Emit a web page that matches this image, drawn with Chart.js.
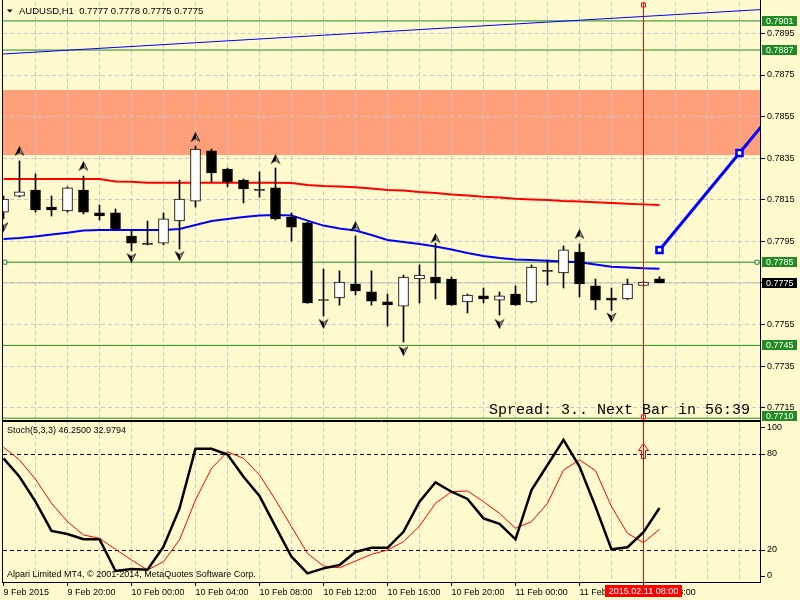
<!DOCTYPE html>
<html>
<head>
<meta charset="utf-8">
<title>AUDUSD,H1</title>
<script src="https://cdn.jsdelivr.net/npm/chart.js@4.4.1/dist/chart.umd.min.js"></script>
<style>
  html, body { margin: 0; padding: 0; background: #fffacd; }
  #wrap { position: relative; width: 800px; height: 600px; overflow: hidden; }
  #wrap canvas { position: absolute; left: 0; }
</style>
</head>
<body>
<div id="wrap">
  <canvas id="priceChart" width="800" height="421" style="top:0;width:800px;height:421px"></canvas>
  <canvas id="stochChart" width="800" height="179" style="top:421px;width:800px;height:179px"></canvas>
</div>
<script>
// AUDUSD H1 candles, bar 0 = 9 Feb 2015 16:00, last bar = 11 Feb 09:00
const symbol = 'AUDUSD,H1';
const opens = [0.78091, 0.78168, 0.78197, 0.78115, 0.78096, 0.78197, 0.78087, 0.78087, 0.77976, 0.77938,
               0.77942, 0.78048, 0.78144, 0.78385, 0.78298, 0.78245, 0.78197, 0.78207, 0.78067, 0.78039,
               0.77668, 0.77678, 0.77745, 0.77707, 0.77659, 0.77639, 0.77769, 0.77779, 0.77769, 0.77659,
               0.77688, 0.77668, 0.77697, 0.77659, 0.77808, 0.77798, 0.77899, 0.77736, 0.77678, 0.77673,
               0.77738, 0.77770];
const highs = [0.78168, 0.78337, 0.78274, 0.78168, 0.78212, 0.78264, 0.78125, 0.78106, 0.78005, 0.78048,
               0.78087, 0.78245, 0.78409, 0.78394, 0.78303, 0.78250, 0.78284, 0.78303, 0.78087, 0.78043,
               0.77817, 0.77808, 0.77976, 0.77808, 0.77697, 0.77788, 0.77837, 0.77942, 0.77779, 0.77697,
               0.77726, 0.77707, 0.77736, 0.77837, 0.77861, 0.77928, 0.77938, 0.77769, 0.77726, 0.77769,
               0.77758, 0.77780];
const lows = [0.78058, 0.78163, 0.78091, 0.78072, 0.78091, 0.78082, 0.78053, 0.78005, 0.77904, 0.77933,
              0.77933, 0.77913, 0.78115, 0.78236, 0.78212, 0.78135, 0.78163, 0.78053, 0.77952, 0.77652,
              0.77591, 0.77644, 0.77692, 0.77644, 0.77543, 0.77466, 0.77654, 0.77673, 0.77642, 0.77606,
              0.77654, 0.77596, 0.77642, 0.77654, 0.77740, 0.77726, 0.77683, 0.77622, 0.77618, 0.77670,
              0.77735, 0.77750];
const closes = [0.78154, 0.78188, 0.78101, 0.78101, 0.78207, 0.78091, 0.78072, 0.78010, 0.77942, 0.77936,
                0.78058, 0.78154, 0.78394, 0.78279, 0.78236, 0.78202, 0.78195, 0.78058, 0.78019, 0.77654,
                0.77666, 0.77755, 0.77712, 0.77663, 0.77644, 0.77779, 0.77788, 0.77750, 0.77644, 0.77692,
                0.77673, 0.77688, 0.77644, 0.77827, 0.77806, 0.77909, 0.77745, 0.77668, 0.77668, 0.77745,
                0.77755, 0.77750];

// moving averages (red = slow, blue = fast)
const maSlow = [0.78250, 0.78250, 0.78250, 0.78250, 0.78250, 0.78250, 0.78250, 0.78238, 0.78237, 0.78232,
                0.78232, 0.78232, 0.78232, 0.78232, 0.78232, 0.78232, 0.78232, 0.78232, 0.78231, 0.78221,
                0.78216, 0.78214, 0.78210, 0.78204, 0.78197, 0.78195, 0.78188, 0.78183, 0.78175, 0.78171,
                0.78165, 0.78161, 0.78155, 0.78152, 0.78149, 0.78144, 0.78142, 0.78138, 0.78135, 0.78131,
                0.78128, 0.78125];
const maFast = [0.77962, 0.77966, 0.77974, 0.77983, 0.77992, 0.78002, 0.78005, 0.78005, 0.78005, 0.78005,
                0.78005, 0.78010, 0.78029, 0.78048, 0.78058, 0.78067, 0.78075, 0.78077, 0.78075, 0.78050,
                0.78026, 0.78012, 0.78002, 0.77981, 0.77957, 0.77947, 0.77938, 0.77925, 0.77911, 0.77894,
                0.77880, 0.77870, 0.77863, 0.77861, 0.77857, 0.77853, 0.77850, 0.77839, 0.77828, 0.77825,
                0.77821, 0.77819];

// fractals
const fractalUpBars = [1, 5, 12, 17, 22, 27, 36];
const fractalUpPrices = [0.78385, 0.78313, 0.78452, 0.78346, 0.78024, 0.77966, 0.77986];
const fractalDownBars = [0, 8, 11, 20, 25, 31, 38];
const fractalDownPrices = [0.78019, 0.77870, 0.77880, 0.77553, 0.77423, 0.77553, 0.77584];

// objects on the chart
const priceTicks = [0.7715, 0.7735, 0.7755, 0.7775, 0.7795, 0.7815, 0.7835, 0.7855, 0.7875, 0.7895];
const levelPrices = [0.7901, 0.7887, 0.7785, 0.7745, 0.7710];
const bidPrice = 0.7775;
const zonePrices = [0.78365, 0.78678];
const thinTrendBars = [0, 47];
const thinTrendPrices = [0.78851, 0.79063];
const thickTrendBars = [41, 46];
const thickTrendPrices = [0.77909, 0.78375];
const cursorBar = 40;
const cursorTime = '2015.02.11 08:00';
const cursorHandlePrices = [0.79087, 0.77106];
const spreadText = 'Spread: 3.. Next Bar in 56:39';

// Stochastic (5,3,3)
const stochMain = [77.3, 65.8, 50.2, 31.9, 30.0, 26.7, 26.7, 6.9, 8.1, 7.7,
                   22.1, 46.0, 83.3, 83.3, 79.6, 65.8, 53.8, 34.6, 15.8, 5.4,
                   8.5, 10.6, 18.8, 21.4, 21.4, 31.4, 50.2, 62.3, 56.4, 51.9,
                   39.8, 36.3, 26.7, 57.5, 73.1, 88.8, 72.1, 47.1, 20.4, 21.7,
                   31.1, 46.25];
const stochSignal = [84.2, 76.3, 64.2, 49.2, 37.7, 29.4, 27.3, 20.4, 13.8, 7.5,
                     12.7, 26.3, 51.3, 71.0, 81.4, 77.3, 66.9, 51.3, 34.6, 17.9,
                     10.0, 8.9, 13.1, 17.3, 20.0, 25.2, 35.0, 49.2, 56.4, 56.9,
                     50.2, 42.9, 33.6, 37.7, 49.2, 70.0, 76.3, 69.6, 47.1, 30.4,
                     24.6, 32.9794];
const stochLevels = [20, 80];
// MT4 pulls the 0 and 100 labels inside the sub-window
const stochTickValues = [3.75, 20, 80, 96.25];
const stochTickText = ['0', '20', '80', '100'];
const arrowValue = 81.9;

// time axis: a label every 4 bars
const timeLabels = ['9 Feb 2015', '9 Feb 20:00', '10 Feb 00:00', '10 Feb 04:00', '10 Feb 08:00',
                    '10 Feb 12:00', '10 Feb 16:00', '10 Feb 20:00', '11 Feb 00:00', '11 Feb 04:00',
                    '11 Feb 08:00'];

// visible window
const xMin = -0.03125, xMax = 47.34375;
const priceMin = 0.770913, priceMax = 0.79101;
const stochMin = 0, stochMax = 100.625;

const bgColor = '#fffacd';
const gridColor = '#c8c8c8';
const levelGreen = '#228b22';

Chart.defaults.font.family = "'Liberation Sans', Arial, sans-serif";
Chart.defaults.font.size = 9;
Chart.defaults.color = '#000';

const bars = opens.map((_, i) => i);
const gridBars = [];
for (let i = 0; i <= 46; i += 2) gridBars.push(i);

function lineAt(xs, ys, x) {
    const k = (ys[1] - ys[0]) / (xs[1] - xs[0]);
    return ys[0] + k * (x - xs[0]);
}

function arrowIcon(up) {
    const c = document.createElement('canvas');
    c.width = 11; c.height = 11;
    const g = c.getContext('2d');
    if (!up) { g.translate(0, 11); g.scale(1, -1); }
    g.beginPath();
    g.moveTo(5.5, 0.5); g.lineTo(10.5, 10.5); g.lineTo(5.5, 7.5); g.lineTo(0.5, 10.5);
    g.closePath();
    g.fillStyle = '#000';
    g.fill();
    g.beginPath();
    g.moveTo(6, 3); g.lineTo(9, 9); g.lineTo(6, 7);
    g.closePath();
    g.fillStyle = '#9a9a9a';
    g.fill();
    return c;
}

function outlineArrow() {
    const c = document.createElement('canvas');
    c.width = 11; c.height = 16;
    const g = c.getContext('2d');
    g.beginPath();
    g.moveTo(5.5, 0.5); g.lineTo(10.5, 7.5); g.lineTo(7.5, 7.5); g.lineTo(7.5, 15.5);
    g.lineTo(3.5, 15.5); g.lineTo(3.5, 7.5); g.lineTo(0.5, 7.5);
    g.closePath();
    g.strokeStyle = '#ff0000';
    g.lineWidth = 1;
    g.stroke();
    return c;
}

function flatLine(price, color, width) {
    return {
        type: 'line',
        data: [{ x: xMin, y: price }, { x: xMax, y: price }],
        borderColor: color, borderWidth: width, pointRadius: 0, order: 6
    };
}

// ---------- price window ----------
const mainDecor = {
    id: 'mainDecor',
    beforeDraw(chart) {
        const { ctx, chartArea: a, scales: { y } } = chart;
        ctx.save();
        ctx.fillStyle = bgColor;
        ctx.fillRect(0, 0, chart.width, chart.height);
        const top = y.getPixelForValue(zonePrices[1]);
        const bot = y.getPixelForValue(zonePrices[0]);
        ctx.fillStyle = '#ffa07a';
        ctx.fillRect(a.left, top, a.right - a.left, bot - top);
        ctx.restore();
    },
    afterDraw(chart) {
        const { ctx, chartArea: a, scales: { y } } = chart;
        ctx.save();
        ctx.setLineDash([]);
        ctx.strokeStyle = '#000';
        ctx.lineWidth = 1;
        ctx.beginPath();
        ctx.moveTo(a.left - 0.5, 0); ctx.lineTo(a.left - 0.5, chart.height);
        ctx.moveTo(a.right - 0.5, 0); ctx.lineTo(a.right - 0.5, chart.height);
        ctx.moveTo(a.left - 1, a.bottom + 0.5); ctx.lineTo(a.right, a.bottom + 0.5);
        ctx.stroke();

        // price tags on the axis (kept inside the window like MT4 does)
        ctx.font = "9px 'Liberation Sans', Arial, sans-serif";
        ctx.textBaseline = 'middle';
        const tag = (price, color) => {
            const py = Math.min(Math.round(y.getPixelForValue(price)), chart.height - 5);
            ctx.fillStyle = color;
            ctx.fillRect(a.right + 1, py - 5, 35, 10);
            ctx.fillStyle = '#fff';
            ctx.fillText(price.toFixed(4), a.right + 5, py + 0.5);
        };
        levelPrices.forEach(p => tag(p, levelGreen));
        tag(bidPrice, '#000');

        // title
        ctx.fillStyle = '#000';
        ctx.beginPath();
        ctx.moveTo(7, 9.5); ctx.lineTo(12.5, 9.5); ctx.lineTo(9.75, 12.5);
        ctx.closePath();
        ctx.fill();
        const last = opens.length - 1;
        const title = symbol + '  ' + [opens[last], highs[last], lows[last], closes[last]]
            .map(v => v.toFixed(4)).join(' ');
        ctx.font = "9.5px 'Liberation Sans', Arial, sans-serif";
        ctx.fillText(title, 19, 11.5);

        ctx.font = "15px 'Liberation Mono', 'Courier New', monospace";
        ctx.textBaseline = 'alphabetic';
        ctx.fillText(spreadText, 489, 414);
        ctx.restore();
    }
};

const bodyColors = bars.map(i => closes[i] >= opens[i] ? '#ffffff' : '#000000');

new Chart(document.getElementById('priceChart'), {
    type: 'bar',
    data: {
        datasets: [
            {
                type: 'scatter',
                data: fractalUpBars.map((b, k) => ({ x: b, y: fractalUpPrices[k] })),
                pointStyle: arrowIcon(true), pointRadius: 5, order: 0
            },
            {
                type: 'scatter',
                data: fractalDownBars.map((b, k) => ({ x: b, y: fractalDownPrices[k] })),
                pointStyle: arrowIcon(false), pointRadius: 5, order: 0
            },
            {
                // candle bodies
                data: bars.map(i => ({ x: i, y: [opens[i], closes[i]] })),
                backgroundColor: bodyColors,
                borderColor: '#000',
                borderWidth: 1,
                borderSkipped: false,
                barThickness: 10,
                minBarLength: 1,
                grouped: false,
                clip: 0,
                order: 1
            },
            {
                // wicks
                data: bars.map(i => ({ x: i, y: [lows[i], highs[i]] })),
                backgroundColor: '#000',
                barThickness: 1,
                grouped: false,
                clip: 0,
                order: 2
            },
            {
                type: 'line',
                data: bars.map(i => ({ x: i, y: maSlow[i] })),
                borderColor: '#ff0000', borderWidth: 2, pointRadius: 0, order: 3
            },
            {
                type: 'line',
                data: bars.map(i => ({ x: i, y: maFast[i] })),
                borderColor: '#0000ff', borderWidth: 2, pointRadius: 0, order: 3
            },
            {
                type: 'line',
                data: [
                    { x: thickTrendBars[0], y: thickTrendPrices[0] },
                    { x: thickTrendBars[1], y: thickTrendPrices[1] },
                    { x: xMax, y: lineAt(thickTrendBars, thickTrendPrices, xMax) }
                ],
                borderColor: '#0000ff', borderWidth: 3,
                pointStyle: 'rect', pointRadius: [4.3, 4.3, 0],
                pointBackgroundColor: '#ffffff', pointBorderColor: '#0000ff', pointBorderWidth: 2.5,
                order: 0
            },
            {
                type: 'line',
                data: [
                    { x: xMin, y: lineAt(thinTrendBars, thinTrendPrices, xMin) },
                    { x: xMax, y: lineAt(thinTrendBars, thinTrendPrices, xMax) }
                ],
                borderColor: '#0000ff', borderWidth: 1, pointRadius: 0, order: 4
            },
            ...levelPrices.map(p => flatLine(p, levelGreen, 1)),
            flatLine(bidPrice, '#c0c0c0', 1),
            {
                type: 'line',
                data: [{ x: cursorBar, y: priceMin }, { x: cursorBar, y: priceMax }],
                borderColor: '#ff0000', borderWidth: 1, pointRadius: 0, order: 0
            },
            {
                type: 'scatter',
                data: [
                    { x: cursorBar, y: cursorHandlePrices[0] },
                    { x: cursorBar, y: cursorHandlePrices[1] }
                ],
                pointStyle: 'rect', pointRadius: 2.8,
                pointBackgroundColor: '#ffffff', pointBorderColor: '#ff0000', pointBorderWidth: 1,
                order: 0
            },
            {
                type: 'scatter',
                data: [{ x: xMin + 0.12, y: levelPrices[2] }, { x: xMax - 0.25, y: levelPrices[2] }],
                pointStyle: 'rect', pointRadius: 2.8,
                pointBackgroundColor: '#ffffff', pointBorderColor: levelGreen, pointBorderWidth: 1,
                order: 0
            }
        ]
    },
    options: {
        responsive: false,
        animation: false,
        devicePixelRatio: 1,
        events: [],
        layout: { autoPadding: false, padding: { left: 3, top: 2, right: 0, bottom: 1 } },
        plugins: { legend: { display: false }, tooltip: { enabled: false } },
        scales: {
            x: {
                type: 'linear', min: xMin, max: xMax, offset: false,
                afterBuildTicks: s => { s.ticks = gridBars.map(v => ({ value: v })); },
                afterFit: s => { s.height = 0; s.paddingLeft = 0; s.paddingRight = 0; },
                ticks: { display: false },
                grid: {
                    offset: false, drawTicks: false,
                    color: c => (c.tick && c.tick.value === 0) ? 'transparent' : gridColor,
                    borderDash: [4, 3]
                },
                border: { display: false, dash: [4, 3] }
            },
            y: {
                position: 'right', min: priceMin, max: priceMax,
                afterBuildTicks: s => { s.ticks = priceTicks.map(v => ({ value: v })); },
                afterFit: s => { s.width = 39; s.paddingTop = 0; s.paddingBottom = 0; },
                ticks: { callback: v => v.toFixed(4), padding: 2, color: '#000' },
                grid: { color: gridColor, tickColor: '#000', tickLength: 4, tickBorderDash: [], borderDash: [4, 3] },
                border: { display: false, dash: [4, 3] }
            }
        }
    },
    plugins: [mainDecor]
});

// ---------- stochastic window ----------
const hasLabel = v => v % 4 === 0 && v / 4 < timeLabels.length;

const stochDecor = {
    id: 'stochDecor',
    beforeDraw(chart) {
        const { ctx } = chart;
        ctx.save();
        ctx.fillStyle = bgColor;
        ctx.fillRect(0, 0, chart.width, chart.height);
        ctx.restore();
    },
    afterDraw(chart) {
        const { ctx, chartArea: a, scales: { x } } = chart;
        ctx.save();
        ctx.setLineDash([]);
        ctx.strokeStyle = '#000';
        ctx.lineWidth = 1;
        ctx.beginPath();
        ctx.moveTo(a.left - 1, a.top + 0.5); ctx.lineTo(a.right, a.top + 0.5);
        ctx.moveTo(a.left - 0.5, 0); ctx.lineTo(a.left - 0.5, a.bottom + 1);
        ctx.moveTo(a.right - 0.5, 0); ctx.lineTo(a.right - 0.5, a.bottom + 1);
        ctx.moveTo(a.left - 1, a.bottom + 0.5); ctx.lineTo(a.right, a.bottom + 0.5);
        ctx.stroke();

        ctx.fillStyle = '#000';
        ctx.font = "9px 'Liberation Sans', Arial, sans-serif";
        ctx.textBaseline = 'middle';
        const last = stochMain.length - 1;
        ctx.fillText('Stoch(5,3,3) ' + stochMain[last].toFixed(4) + ' ' + stochSignal[last].toFixed(4), 7, 10);
        ctx.fillText('Alpari Limited MT4, \u00a9 2001-2014, MetaQuotes Software Corp.', 7, 154);

        // time of the vertical line
        const cx = x.getPixelForValue(cursorBar);
        const w = ctx.measureText(cursorTime).width + 8;
        ctx.fillStyle = '#ff0000';
        ctx.fillRect(Math.round(cx - w / 2), a.bottom + 3, Math.round(w), 12);
        ctx.fillStyle = '#ffffff';
        ctx.textAlign = 'center';
        ctx.fillText(cursorTime, cx, a.bottom + 9.5);
        ctx.restore();
    }
};

new Chart(document.getElementById('stochChart'), {
    type: 'line',
    data: {
        datasets: [
            {
                data: bars.map(i => ({ x: i, y: stochMain[i] })),
                borderColor: '#000', borderWidth: 2.5, pointRadius: 0, order: 0
            },
            {
                data: bars.map(i => ({ x: i, y: stochSignal[i] })),
                borderColor: '#ff0000', borderWidth: 1, pointRadius: 0, order: 1
            },
            {
                data: [{ x: cursorBar, y: stochMin }, { x: cursorBar, y: stochMax }],
                borderColor: '#ff0000', borderWidth: 1, pointRadius: 0, order: 2
            },
            {
                type: 'scatter',
                data: [{ x: cursorBar, y: arrowValue }],
                pointStyle: outlineArrow(), pointRadius: 5, order: 0
            }
        ]
    },
    options: {
        responsive: false,
        animation: false,
        devicePixelRatio: 1,
        events: [],
        layout: { autoPadding: false, padding: { left: 3, top: 0, right: 0, bottom: 0 } },
        plugins: { legend: { display: false }, tooltip: { enabled: false } },
        scales: {
            x: {
                type: 'linear', min: xMin, max: xMax, offset: false,
                afterBuildTicks: s => { s.ticks = gridBars.map(v => ({ value: v })); },
                afterFit: s => { s.height = 18; s.paddingLeft = 0; s.paddingRight = 0; },
                ticks: {
                    autoSkip: false, maxRotation: 0, minRotation: 0, align: 'start', padding: 1,
                    callback: v => hasLabel(v) ? timeLabels[v / 4] : ''
                },
                grid: {
                    offset: false, tickLength: 4, tickBorderDash: [],
                    color: c => (c.tick && c.tick.value === 0) ? 'transparent' : gridColor,
                    tickColor: c => (c.tick && hasLabel(c.tick.value)) ? '#000' : 'transparent',
                    borderDash: [4, 3]
                },
                border: { display: false, dash: [4, 3] }
            },
            y: {
                position: 'right', min: stochMin, max: stochMax,
                afterBuildTicks: s => { s.ticks = stochTickValues.map(v => ({ value: v })); },
                afterFit: s => { s.width = 39; s.paddingTop = 0; s.paddingBottom = 0; },
                ticks: {
                    padding: 2,
                    callback: v => stochTickText[stochTickValues.indexOf(v)]
                },
                grid: {
                    color: c => (c.tick && stochLevels.includes(c.tick.value)) ? '#000' : 'transparent',
                    tickColor: '#000', tickLength: 4, tickBorderDash: [], borderDash: [4, 3]
                },
                border: { display: false, dash: [4, 3] }
            }
        }
    },
    plugins: [stochDecor]
});
</script>
</body>
</html>
